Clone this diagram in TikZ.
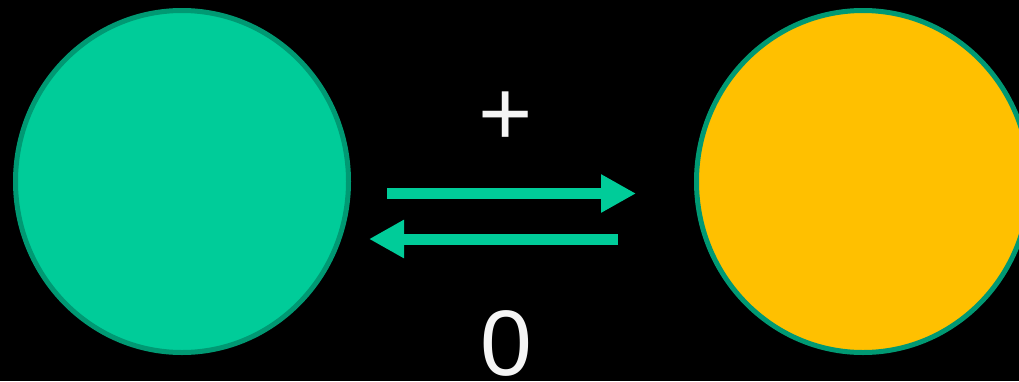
\documentclass[tikz,border=0pt]{standalone}
\usepackage{fontspec}
\setmainfont{Liberation Sans}
\usetikzlibrary{
  arrows.meta,
  positioning,
  shapes.geometric
}
\definecolor{BondGreen}{RGB}{0,204,153}
\definecolor{EdgeGreen}{RGB}{0,153,115}
\definecolor{StateYellow}{RGB}{255,192,0}
\definecolor{SignGray}{RGB}{245,245,245}
\tikzset{
  statenode/.style={ellipse,draw=EdgeGreen,line width=5pt,minimum width=333pt,minimum height=342pt,inner sep=0pt},
  signlabel/.style={text=SignGray,anchor=base,font=\fontsize{93}{93}\selectfont,inner sep=0pt},
  flowarrow/.style={-{Triangle[length=35pt,width=36pt]},line width=11pt,draw=BondGreen}
}
\begin{document}
\begin{tikzpicture}[x=1pt,y=1pt]
\useasboundingbox (0,0) rectangle (1019,-381);
\fill[black] (0,0) rectangle (1019,-381);
\clip (0,0) rectangle (1019,-381);

\node[statenode, fill=BondGreen] (open) at (182,-181.5) {};
\node[statenode, fill=StateYellow, right=343pt of open] (closed) {};

\node[signlabel] (plus) at (506,-145) {+};
\node[signlabel] (zero) at (506,-375) {0};

\draw[flowarrow, shorten <=36pt, shorten >=58pt] ([yshift=-12pt]open.east) -- ([yshift=-12pt]closed.west);
\draw[flowarrow, shorten <=76pt, shorten >=18pt] ([yshift=-57.5pt]closed.west) -- ([yshift=-57.5pt]open.east);
\end{tikzpicture}
\end{document}
